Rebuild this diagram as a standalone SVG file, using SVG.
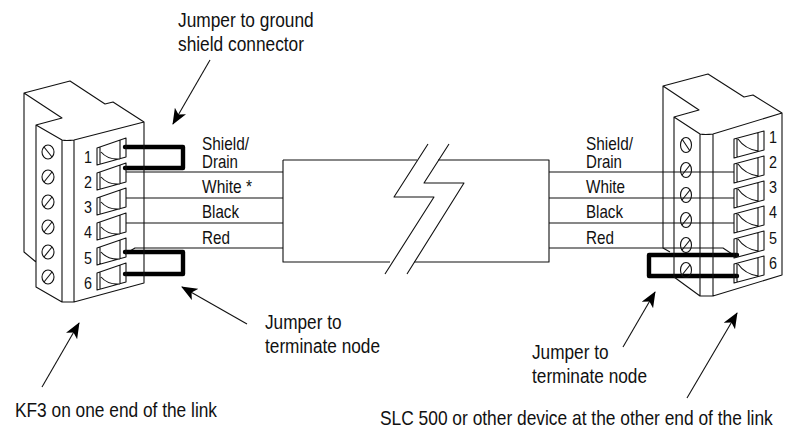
<svg xmlns="http://www.w3.org/2000/svg" width="788" height="430" viewBox="0 0 788 430">
<style>
text{font-family:"Liberation Sans",Arial,sans-serif;fill:#111}
.c{font-size:20px}.w{font-size:18.5px}.n{font-size:17px}
.l{fill:none;stroke:#111;stroke-width:1.1;stroke-linejoin:round}
.j{fill:none;stroke:#000;stroke-width:4.4;stroke-linejoin:round;stroke-linecap:round}
.a{fill:none;stroke:#111;stroke-width:1.1}
</style>
<defs>
<marker id="ah" markerUnits="userSpaceOnUse" markerWidth="20" markerHeight="14" refX="15" refY="6.5" orient="auto"><path d="M0 0L16 6.5L0 13L4 6.5Z" fill="#000"/></marker>
<g id="termL"><path class="l" d="M97 148L126 138V157L97 165ZM100 147V164M120 140V158M101 152Q108 160 120 159"/></g>
<g id="termR"><path class="l" d="M734 139L764 131V150L734 158ZM737 138V157M758 133V151M738 139Q745 149 758 151"/></g>
<g id="sL"><ellipse class="l" cx="48" cy="152" rx="6" ry="7"/><path class="l" d="M44 147L52 157"/></g>
<g id="sB"><ellipse class="l" cx="48" cy="177" rx="6" ry="7"/><path class="l" d="M44 182L52 172"/></g>
<g id="sR"><ellipse class="l" cx="686" cy="145" rx="5.5" ry="7.5"/></g>
</defs>
<g id="cable-break">
<path class="l" d="M283 160H417M438 160H549V262H414M390 262H283V160"/>
<path class="l" d="M428 144L394 197H434L385 274M449 144L424 183H464L407 274"/>
</g>
<g id="connectors">
<path class="l" d="M126 172H283M126 198H283M126 223H283M283 248H135L125 254"/>
<path class="l" d="M549 172H734M549 198H734M549 223H734M549 248H723L735 256"/>
<path class="j" d="M125 147H183V168H125"/>
<path class="j" d="M125 252H183V274H125"/>
<path class="j" d="M737 255H649V276H737"/>
<path class="a" d="M210 60L173 124" marker-end="url(#ah)"/>
<path class="a" d="M247 324L182 287" marker-end="url(#ah)"/>
<path class="a" d="M42 387L79 323" marker-end="url(#ah)"/>
<path class="a" d="M623 347L655 292" marker-end="url(#ah)"/>
<path class="a" d="M687 398L737 313" marker-end="url(#ah)"/>
</g>
<g id="kf3-connector">
<path class="l" d="M36 262L24 252V93L70 81L105 104L113 102L144 122V283L74 302H62L36 287V125L62 118L24 93M36 125L62 140Q66 141 74 140L144 122M62 140V302M74 140V302"/>
<use href="#termL"/><use href="#termL" y="25"/><use href="#termL" y="50"/><use href="#termL" y="75"/><use href="#termL" y="100"/><use href="#termL" y="125"/>
<use href="#sL"/><use href="#sB"/><use href="#sB" y="25"/><use href="#sB" y="50"/><use href="#sB" y="75"/><use href="#sB" y="100"/>
<text class="n" x="84" y="163" textLength="8" lengthAdjust="spacingAndGlyphs">1</text><text class="n" x="84" y="188" textLength="8" lengthAdjust="spacingAndGlyphs">2</text><text class="n" x="84" y="213" textLength="8" lengthAdjust="spacingAndGlyphs">3</text><text class="n" x="84" y="238" textLength="8" lengthAdjust="spacingAndGlyphs">4</text><text class="n" x="84" y="264" textLength="8" lengthAdjust="spacingAndGlyphs">5</text><text class="n" x="84" y="289" textLength="8" lengthAdjust="spacingAndGlyphs">6</text>
</g>
<g id="slc-connector">
<path class="l" d="M670 252L663 248V86L708 74L744 97L753 95L782 113V275L713 296H700L674 277V117L699 110L663 86M674 117L700 134Q705 135 713 134L782 113M700 134V296M713 134V296"/>
<use href="#termR"/><use href="#termR" y="25"/><use href="#termR" y="50"/><use href="#termR" y="75"/><use href="#termR" y="100"/><use href="#termR" y="125"/>
<use href="#sR"/><use href="#sR" y="25"/><use href="#sR" y="50"/><use href="#sR" y="75"/><use href="#sR" y="100"/><use href="#sR" y="125"/>
<path class="l" d="M682 139L690 151M682 175L690 165M682 200L690 190M682 225L690 215M682 250L690 240M682 275L690 265"/>
<text class="n" x="769" y="143" textLength="8" lengthAdjust="spacingAndGlyphs">1</text><text class="n" x="769" y="168" textLength="8" lengthAdjust="spacingAndGlyphs">2</text><text class="n" x="769" y="193" textLength="8" lengthAdjust="spacingAndGlyphs">3</text><text class="n" x="769" y="218" textLength="8" lengthAdjust="spacingAndGlyphs">4</text><text class="n" x="769" y="244" textLength="8" lengthAdjust="spacingAndGlyphs">5</text><text class="n" x="769" y="269" textLength="8" lengthAdjust="spacingAndGlyphs">6</text>
</g>
<g id="labels">
<text class="c" x="178" y="27" textLength="135.7" lengthAdjust="spacingAndGlyphs">Jumper to ground</text>
<text class="c" x="178" y="51" textLength="126" lengthAdjust="spacingAndGlyphs">shield connector</text>
<text class="w"><tspan x="202" y="150" textLength="47" lengthAdjust="spacingAndGlyphs">Shield/</tspan><tspan x="202" y="168" textLength="36" lengthAdjust="spacingAndGlyphs">Drain</tspan></text>
<text class="w" x="202" y="193" textLength="50" lengthAdjust="spacingAndGlyphs">White *</text><text class="w" x="202" y="218" textLength="37" lengthAdjust="spacingAndGlyphs">Black</text><text class="w" x="202" y="244" textLength="28" lengthAdjust="spacingAndGlyphs">Red</text>
<text class="w"><tspan x="586" y="150" textLength="47" lengthAdjust="spacingAndGlyphs">Shield/</tspan><tspan x="586" y="168" textLength="36" lengthAdjust="spacingAndGlyphs">Drain</tspan></text>
<text class="w" x="586" y="193" textLength="39" lengthAdjust="spacingAndGlyphs">White</text><text class="w" x="586" y="218" textLength="37" lengthAdjust="spacingAndGlyphs">Black</text><text class="w" x="586" y="244" textLength="28" lengthAdjust="spacingAndGlyphs">Red</text>
<text class="c" x="265" y="329" textLength="76.5" lengthAdjust="spacingAndGlyphs">Jumper to</text><text class="c" x="265" y="353" textLength="115" lengthAdjust="spacingAndGlyphs">terminate node</text>
<text class="c" x="532" y="359" textLength="76.5" lengthAdjust="spacingAndGlyphs">Jumper to</text><text class="c" x="532" y="383" textLength="115" lengthAdjust="spacingAndGlyphs">terminate node</text>
<text class="c" x="15" y="417" textLength="202" lengthAdjust="spacingAndGlyphs">KF3 on one end of the link</text>
<text class="c" transform="translate(380 425) scale(.8685 1)">SLC 500 or other device at the other end of the link</text>
</g>
</svg>
